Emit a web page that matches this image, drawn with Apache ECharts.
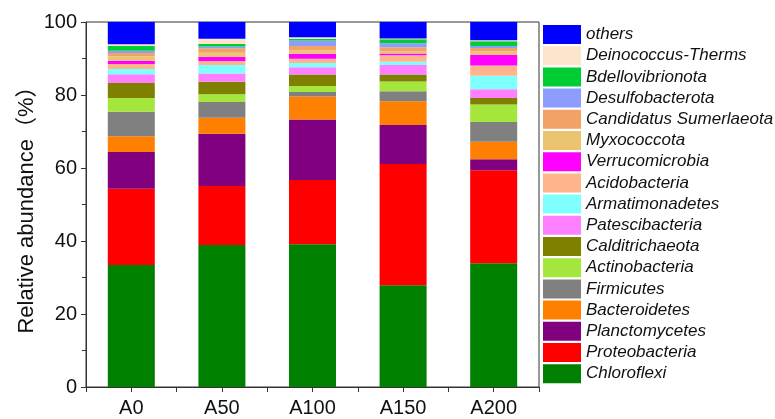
<!DOCTYPE html>
<html>
<head>
<meta charset="utf-8">
<script src="https://cdn.jsdelivr.net/npm/echarts@6/dist/echarts.min.js"></script>
<style>html,body{margin:0;padding:0;background:#fff}#c{width:775px;height:419px}</style>
</head>
<body>
<div id="c"></div>
<script>
var categories = ['A0', 'A50', 'A100', 'A150', 'A200'];
var yTicks = [0, 20, 40, 60, 80, 100];
// series from bottom of stack to top
var seriesNames = ['Chloroflexi','Proteobacteria','Planctomycetes','Bacteroidetes','Firmicutes','Actinobacteria','Calditrichaeota','Patescibacteria','Armatimonadetes','Acidobacteria','Verrucomicrobia','Myxococcota','Candidatus Sumerlaeota','Desulfobacterota','Bdellovibrionota','Deinococcus-Therms','others'];
var seriesColors = ['#008000','#FF0000','#800080','#FF8000','#808080','#A4E63C','#808000','#FF80FF','#80FFFF','#FFB48C','#FF00FF','#ECC470','#F2A266','#8C9CFF','#00CC33','#FDE5CC','#0000FF'];
var Chloroflexi = [33.4, 38.9, 39.1, 27.9, 33.9];
var Proteobacteria = [20.9, 16.2, 17.6, 33.2, 25.5];
var Planctomycetes = [10.1, 14.3, 16.6, 10.7, 3.0];
var Bacteroidetes = [4.3, 4.4, 6.3, 6.5, 4.8];
var Firmicutes = [6.7, 4.3, 1.2, 2.7, 5.4];
var Actinobacteria = [3.8, 2.1, 1.7, 2.7, 4.8];
var Calditrichaeota = [4.1, 3.4, 3.1, 1.9, 1.8];
var Patescibacteria = [2.4, 2.3, 2.0, 2.6, 2.4];
var Armatimonadetes = [1.4, 2.3, 1.2, 0.9, 3.7];
var Acidobacteria = [1.4, 1.1, 1.1, 1.8, 2.8];
var Verrucomicrobia = [0.9, 1.2, 1.4, 0.5, 2.9];
var Myxococcota = [1.2, 1.1, 0.9, 0.5, 0.9];
var CandidatusSumerlaeota = [0.9, 1.2, 1.2, 1.2, 1.0];
var Desulfobacterota = [0.6, 0.5, 1.5, 1.1, 0.5];
var Bdellovibrionota = [1.3, 0.7, 0.5, 1.1, 1.3];
var DeinococcusTherms = [0.5, 1.4, 0.4, 0.2, 0.3];
var others = [6.1, 4.6, 4.2, 4.5, 5.0];

var seriesValues = [Chloroflexi, Proteobacteria, Planctomycetes, Bacteroidetes, Firmicutes, Actinobacteria, Calditrichaeota, Patescibacteria, Armatimonadetes, Acidobacteria, Verrucomicrobia, Myxococcota, CandidatusSumerlaeota, Desulfobacterota, Bdellovibrionota, DeinococcusTherms, others];

var FONT = '"Liberation Sans", Arial, "Noto Sans CJK SC", sans-serif';
var chart = echarts.init(document.getElementById('c'), null, {renderer: 'canvas'});
var series = seriesNames.map(function (n, i) {
  return {
    name: n, type: 'bar', stack: 'total', xAxisIndex: 0,
    barWidth: 47,
    itemStyle: {color: seriesColors[i], borderWidth: 0},
    emphasis: {disabled: true},
    data: seriesValues[i]
  };
});
chart.setOption({
  animation: false,
  backgroundColor: '#fff',
  textStyle: {fontFamily: FONT},
  grid: {left: 86, right: 236, top: 22, bottom: 32, show: true, borderColor: '#333', borderWidth: 1, backgroundColor: 'transparent', containLabel: false},
  legend: {
    orient: 'vertical', left: 543, top: 25, padding: 0,
    itemWidth: 38, itemHeight: 19, itemGap: 2.2,
    icon: 'rect',
    data: seriesNames.slice().reverse(),
    selectedMode: false,
    textStyle: {fontFamily: FONT, fontSize: 17, fontStyle: 'italic', color: '#111', lineHeight: 19}
  },
  xAxis: [{
    type: 'category', data: categories, position: 'bottom',
    axisLine: {lineStyle: {color: '#333', width: 1}},
    axisTick: {show: true, alignWithLabel: false, length: 5, inside: false, lineStyle: {color: '#333'}},
    axisLabel: {fontFamily: FONT, fontSize: 20, color: '#111', margin: 11},
    splitLine: {show: false}
  }, {
    type: 'category', data: categories, position: 'bottom',
    axisLine: {show: false},
    axisTick: {show: true, alignWithLabel: true, length: 5, lineStyle: {color: '#333'}},
    axisLabel: {show: false},
    splitLine: {show: false}
  }],
  yAxis: {
    type: 'value', min: 0, max: 100, interval: 20,
    name: 'Relative abundance（%）', nameLocation: 'middle', nameGap: 48, nameMoveOverlap: false,
    nameTextStyle: {fontFamily: FONT, fontSize: 22, color: '#111'},
    axisLine: {show: true, lineStyle: {color: '#333', width: 1}},
    axisTick: {show: true, length: 5, lineStyle: {color: '#333'}},
    minorTick: {show: true, splitNumber: 2, length: 4, lineStyle: {color: '#333'}},
    axisLabel: {fontFamily: FONT, fontSize: 20, color: '#111', margin: 9,
      formatter: function (v) { return yTicks.indexOf(v) >= 0 ? String(v) : ''; }},
    splitLine: {show: false}
  },
  series: series
});
</script>
</body>
</html>
